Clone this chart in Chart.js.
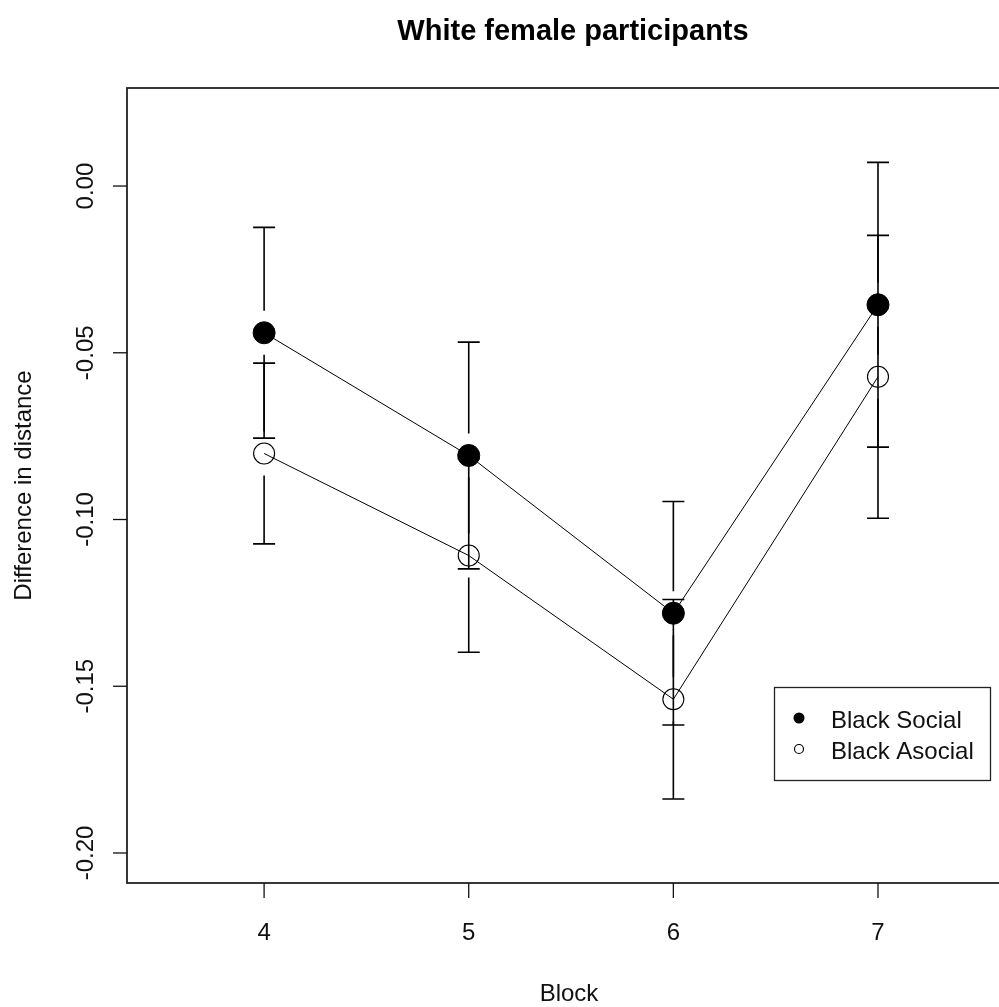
<!DOCTYPE html>
<html>
<head>
<meta charset="utf-8">
<script src="https://cdn.jsdelivr.net/npm/chart.js@4.4.1/dist/chart.umd.min.js"></script>
<style>
  html, body { margin: 0; padding: 0; background: #fff; overflow: hidden; }
  #wrap { width: 1040px; height: 1007px; }
</style>
</head>
<body>
<div id="wrap"><canvas id="c" width="1040" height="1007"></canvas></div>
<script>
// ---- data ----
const chartTitle = 'White female participants';
const xAxisTitle = 'Block';
const yAxisTitle = 'Difference in distance';
const blocks = [4, 5, 6, 7];
const xTickLabels = ['4', '5', '6', '7'];
const yTicks = [-0.20, -0.15, -0.10, -0.05, 0.00];
const yTickLabels = ['-0.20', '-0.15', '-0.10', '-0.05', '0.00'];
const seriesNames = ['Black Social', 'Black Asocial'];
const socialMeans = [-0.0440, -0.0808, -0.1281, -0.0356];
const socialErr = [0.0316, 0.0340, 0.0335, 0.0427];
const asocialMeans = [-0.0802, -0.1108, -0.1539, -0.0572];
const asocialErr = [0.0271, 0.0290, 0.0299, 0.0424];

const FONT = '"Liberation Sans", Arial, sans-serif';

function pts(xs, ys) { return xs.map((x, i) => ({ x: x, y: ys[i] })); }

const errorBarPlugin = {
  id: 'errorBars',
  beforeDatasetsDraw(chart) {
    const ctx = chart.ctx;
    const xs = chart.scales.x, ys = chart.scales.y;
    const gap = 22, cap = 11;
    ctx.save();
    ctx.strokeStyle = '#000';
    ctx.lineWidth = 1.6;
    const sets = [[socialMeans, socialErr], [asocialMeans, asocialErr]];
    sets.forEach(([m, e]) => {
      blocks.forEach((b, i) => {
        const px = xs.getPixelForValue(b);
        const pc = ys.getPixelForValue(m[i]);
        const pt = ys.getPixelForValue(m[i] + e[i]);
        const pb = ys.getPixelForValue(m[i] - e[i]);
        ctx.beginPath();
        ctx.moveTo(px, pc - gap); ctx.lineTo(px, pt);
        ctx.moveTo(px - cap, pt); ctx.lineTo(px + cap, pt);
        ctx.moveTo(px, pc + gap); ctx.lineTo(px, pb);
        ctx.moveTo(px - cap, pb); ctx.lineTo(px + cap, pb);
        ctx.stroke();
      });
    });
    ctx.restore();
  }
};

const framePlugin = {
  id: 'frame',
  afterDraw(chart) {
    const ctx = chart.ctx;
    const a = chart.chartArea;
    const xs = chart.scales.x, ys = chart.scales.y;
    ctx.save();
    // box
    ctx.strokeStyle = '#222';
    ctx.lineWidth = 1.8;
    ctx.strokeRect(a.left, a.top, a.right - a.left, a.bottom - a.top);
    // x ticks
    ctx.lineWidth = 1.3;
    ctx.strokeStyle = '#111';
    ctx.fillStyle = '#111';
    ctx.font = '24px ' + FONT;
    ctx.textAlign = 'center';
    ctx.textBaseline = 'middle';
    blocks.forEach((b, i) => {
      const px = xs.getPixelForValue(b);
      ctx.beginPath(); ctx.moveTo(px, a.bottom); ctx.lineTo(px, a.bottom + 15); ctx.stroke();
      ctx.fillText(xTickLabels[i], px, 933);
    });
    // y ticks
    yTicks.forEach((v, i) => {
      const py = ys.getPixelForValue(v);
      ctx.beginPath(); ctx.moveTo(a.left - 14, py); ctx.lineTo(a.left, py); ctx.stroke();
      ctx.save();
      ctx.translate(86, py);
      ctx.rotate(-Math.PI / 2);
      ctx.fillText(yTickLabels[i], 0, 0);
      ctx.restore();
    });
    // axis titles
    const cx = (a.left + a.right) / 2;
    const cy = (a.top + a.bottom) / 2;
    ctx.fillText(xAxisTitle, cx, 994);
    ctx.save();
    ctx.translate(24, cy);
    ctx.rotate(-Math.PI / 2);
    ctx.fillText(yAxisTitle, 0, 0);
    ctx.restore();
    // title
    ctx.fillStyle = '#000';
    ctx.font = 'bold 29px ' + FONT;
    ctx.textBaseline = 'alphabetic';
    ctx.fillText(chartTitle, cx + 4, 40);
    // legend
    ctx.lineWidth = 1.3;
    ctx.strokeStyle = '#222';
    ctx.strokeRect(774.5, 687.5, 216, 93);
    ctx.font = '24px ' + FONT;
    ctx.textAlign = 'left';
    ctx.textBaseline = 'middle';
    ctx.fillStyle = '#111';
    ctx.fillText(seriesNames[0], 831, 721);
    ctx.fillText(seriesNames[1], 831, 752);
    ctx.beginPath(); ctx.arc(799, 718, 5.5, 0, Math.PI * 2); ctx.fillStyle = '#000'; ctx.fill();
    ctx.beginPath(); ctx.arc(799, 749, 4.5, 0, Math.PI * 2); ctx.lineWidth = 1.2; ctx.strokeStyle = '#000'; ctx.stroke();
    ctx.restore();
  }
};

new Chart(document.getElementById('c'), {
  type: 'line',
  data: {
    datasets: [
      {
        label: seriesNames[0],
        data: pts(blocks, socialMeans),
        borderColor: '#000',
        borderWidth: 1,
        backgroundColor: '#000',
        pointRadius: 11,
        pointBackgroundColor: '#000',
        pointBorderColor: '#000',
        pointBorderWidth: 1,
        tension: 0
      },
      {
        label: seriesNames[1],
        data: pts(blocks, asocialMeans),
        borderColor: '#000',
        borderWidth: 1,
        backgroundColor: 'rgba(0,0,0,0)',
        pointRadius: 10.5,
        pointBackgroundColor: 'rgba(0,0,0,0)',
        pointBorderColor: '#000',
        pointBorderWidth: 1.1,
        tension: 0
      }
    ]
  },
  options: {
    responsive: false,
    animation: false,
    devicePixelRatio: 1,
    layout: { padding: { left: 127, top: 88, right: 1040 - 1011, bottom: 1007 - 883 } },
    plugins: { legend: { display: false }, title: { display: false }, tooltip: { enabled: false } },
    scales: {
      x: { type: 'linear', min: 3.33, max: 7.65, display: false },
      y: { type: 'linear', min: -0.209, max: 0.0294, display: false }
    }
  },
  plugins: [errorBarPlugin, framePlugin]
});
</script>
</body>
</html>
